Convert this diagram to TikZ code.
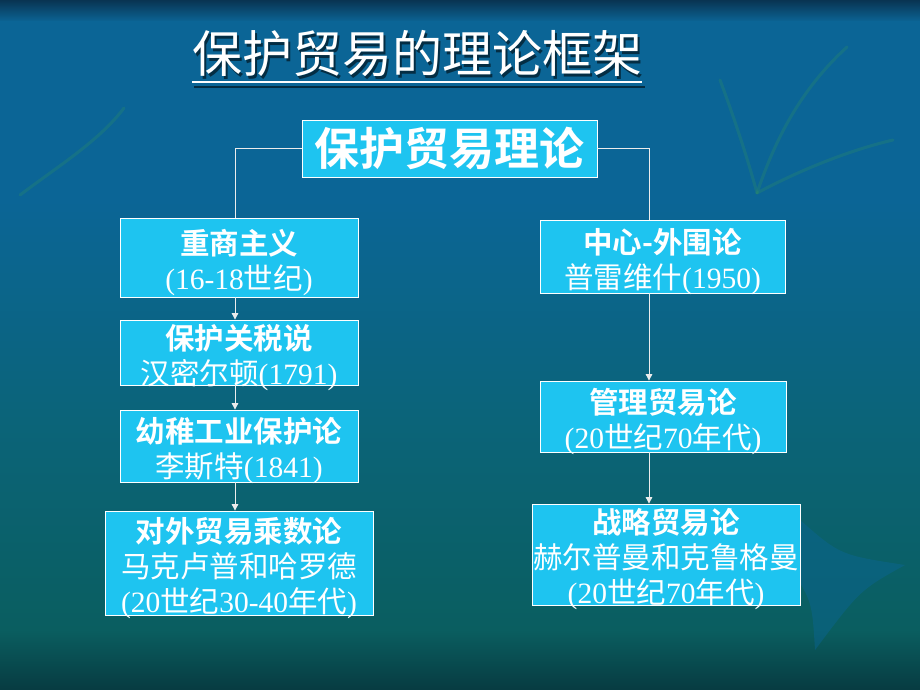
\documentclass[tikz,border=0pt]{standalone}
\usepackage{fontspec}
\setmainfont{Noto Sans CJK SC}[BoldFont={Noto Sans CJK SC Bold}]
\newfontfamily\timesfont{Liberation Serif}
\usetikzlibrary{arrows.meta}
\definecolor{boxcyan}{HTML}{1EC4F0}
\definecolor{bgtop}{HTML}{093452}
\definecolor{bgblue}{HTML}{0B6596}
\definecolor{bgmid}{HTML}{0B6479}
\definecolor{bgteal}{HTML}{0A5E60}
\definecolor{bgbot}{HTML}{073B41}
\definecolor{leaf}{HTML}{2E8E66}
\newcommand\rmn[1]{{\timesfont #1}}
\begin{document}
\begin{tikzpicture}[x=1pt, y=-1pt,
  box/.style={draw=white, line width=0.8pt, fill=boxcyan, inner sep=0pt,
    label={[boxtext]center:{#1}}},
  boxtext/.style={text=white, align=center, inner sep=0pt, yshift=-5pt,
    font=\fontsize{29.5}{35}\selectfont},
  link/.style={draw=white!85!gray, line width=0.9pt},
  arrow/.style={link, -{Triangle[length=6.5pt, width=6.5pt]}},
  leafline/.style={draw=leaf, line width=3pt, opacity=.3, line cap=round},
  titlefont/.style={anchor=base, inner sep=0pt, font=\fontsize{50}{56}\selectfont}]

% background
\useasboundingbox (0,0) rectangle (920,690);
\fill[top color=bgtop, bottom color=bgblue] (0,0) rectangle (920,22);
\fill[top color=bgblue, bottom color=bgblue] (0,22) rectangle (920,200);
\fill[top color=bgblue, bottom color=bgmid] (0,200) rectangle (920,420);
\fill[top color=bgmid, bottom color=bgteal] (0,420) rectangle (920,630);
\fill[top color=bgteal, bottom color=bgbot] (0,630) rectangle (920,690);
\fill[bgblue, opacity=.45] (800,520) .. controls (840,555) .. (905,565)
  .. controls (860,590) .. (815,650) .. controls (812,600) .. (785,560) -- cycle;
\draw[leafline] (20,195) .. controls (60,165) and (100,140) .. (124,108);
\draw[leafline] (847,47) .. controls (800,90) and (775,140) .. (757,193);
\draw[leafline] (720,80) .. controls (735,120) and (748,160) .. (757,193);
\draw[leafline] (757,193) .. controls (800,170) and (850,150) .. (893,140);

% title
\node[titlefont, text=black, opacity=.55] (titleshadow) at (419.5,75.5) {保护贸易的理论框架};
\node[titlefont, text=white] (title) at (417,73) {保护贸易的理论框架};
\draw[black, opacity=.55, line width=2pt] ([yshift=-11.5pt]titleshadow.base west) -- ([yshift=-11.5pt]titleshadow.base east);
\draw[white, line width=2pt] ([yshift=-9pt]title.base west) -- ([yshift=-9pt]title.base east);

% boxes
\node[draw=white, line width=0.8pt, fill=boxcyan, text=white, inner sep=0pt, minimum width=295pt, minimum height=57pt,
  font=\fontsize{45}{50}\selectfont\bfseries] (root) at (449.5,148.5) {保护贸易理论};
\node[box={\textbf{重商主义}\\\rmn{(16-18}世纪\rmn{)}}, minimum width=238pt, minimum height=79pt] (mer) at (239,257.5) {};
\node[box={\textbf{保护关税说}\\汉密尔顿\rmn{(1791)}}, minimum width=238pt, minimum height=65pt] (tariff) at (239,352.5) {};
\node[box={\textbf{幼稚工业保护论}\\李斯特\rmn{(1841)}}, minimum width=238pt, minimum height=72pt] (infant) at (239,446) {};
\node[box={\textbf{对外贸易乘数论}\\马克卢普和哈罗德\\\rmn{(20}世纪\rmn{30-40}年代\rmn{)}}, minimum width=268pt, minimum height=104pt] (mult) at (239,563) {};
\node[box={\textbf{中心-外围论}\\普雷维什\rmn{(1950)}}, minimum width=245pt, minimum height=73pt] (core) at (662.5,256.5) {};
\node[box={\textbf{管理贸易论}\\\rmn{(20}世纪\rmn{70}年代\rmn{)}}, minimum width=246pt, minimum height=71pt] (mgmt) at (663,416.5) {};
\node[box={\textbf{战略贸易论}\\赫尔普曼和克鲁格曼\\\rmn{(20}世纪\rmn{70}年代\rmn{)}}, minimum width=268pt, minimum height=101pt] (strat) at (666,554.5) {};

% connectors
\coordinate (lx) at (235,0);
\coordinate (rx) at (649,0);
\draw[link] (root.west) -| (mer.north -| lx);
\draw[link] (root.east) -| (core.north -| rx);
\draw[arrow] (mer.south -| lx) -- (tariff.north -| lx);
\draw[arrow] (tariff.south -| lx) -- (infant.north -| lx);
\draw[arrow] (infant.south -| lx) -- (mult.north -| lx);
\draw[arrow] (core.south -| rx) -- (mgmt.north -| rx);
\draw[arrow] (mgmt.south -| rx) -- (strat.north -| rx);
\end{tikzpicture}
\end{document}
